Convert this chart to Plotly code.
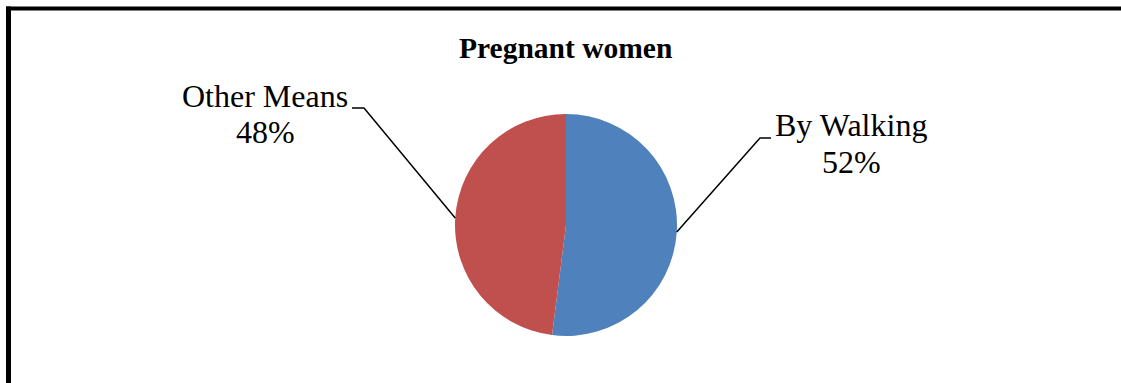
import math
import plotly.graph_objects as go

W, H = 1121, 383

title_text = "Pregnant women"
categories = ["By Walking", "Other Means"]
values = [52, 48]
colors = ["#4F81BD", "#C0504D"]

# pie geometry in pixels
cx, cy, r = 566, 225, 111

def px(x):
    return x / W

def py(y):
    return 1 - y / H

fig = go.Figure()
fig.add_trace(go.Pie(
    labels=categories, values=values,
    marker=dict(colors=colors, line=dict(width=0)),
    sort=False, direction="clockwise", rotation=0,
    textinfo="none", hoverinfo="label+percent", showlegend=False,
    domain=dict(x=[px(cx - r), px(cx + r)], y=[py(cy + r), py(cy - r)]),
))

total = sum(values)
# leader line and label layout per slice
label_cfg = {
    "By Walking": dict(corner=(760, 138), end=(771, 138), tx=851, ty1=125, ty2=162),
    "Other Means": dict(corner=(364, 108), end=(352, 108), tx=265, ty1=96, ty2=132),
}
shapes = []
annotations = []
cum = 0
font_lbl = dict(family="Liberation Serif, Times New Roman, serif", size=32, color="black")
for cat, v in zip(categories, values):
    mid = (cum + v / 2) / total * 2 * math.pi
    cum += v
    sx = cx + r * math.sin(mid)
    sy = cy - r * math.cos(mid)
    cfg = label_cfg[cat]
    shapes.append(dict(type="path", xref="paper", yref="paper",
                       path=f"M {px(sx)},{py(sy)} L {px(cfg['corner'][0])},{py(cfg['corner'][1])} L {px(cfg['end'][0])},{py(cfg['end'][1])}",
                       line=dict(color="black", width=1.5)))
    pct = round(v / total * 100)
    annotations.append(dict(text=cat, x=px(cfg["tx"]), y=py(cfg["ty1"]), xref="paper", yref="paper",
                            xanchor="center", yanchor="middle", showarrow=False, font=font_lbl))
    annotations.append(dict(text=f"{pct}%", x=px(cfg["tx"]), y=py(cfg["ty2"]), xref="paper", yref="paper",
                            xanchor="center", yanchor="middle", showarrow=False, font=font_lbl))

annotations.append(dict(text=f"<b>{title_text}</b>", x=px(565), y=py(48), xref="paper", yref="paper",
                        xanchor="center", yanchor="middle", showarrow=False,
                        font=dict(family="Liberation Serif, Times New Roman, serif", size=29.5, color="black")))

# frame
shapes.append(dict(type="line", xref="paper", yref="paper", x0=px(6), x1=px(W), y0=py(8.5), y1=py(8.5),
                   line=dict(color="black", width=4)))
shapes.append(dict(type="line", xref="paper", yref="paper", x0=px(8.5), x1=px(8.5), y0=py(6.5), y1=py(H),
                   line=dict(color="black", width=5)))

fig.update_layout(width=W, height=H, margin=dict(l=0, r=0, t=0, b=0),
                  paper_bgcolor="white", plot_bgcolor="white",
                  shapes=shapes, annotations=annotations)
fig.write_html("out.html")
